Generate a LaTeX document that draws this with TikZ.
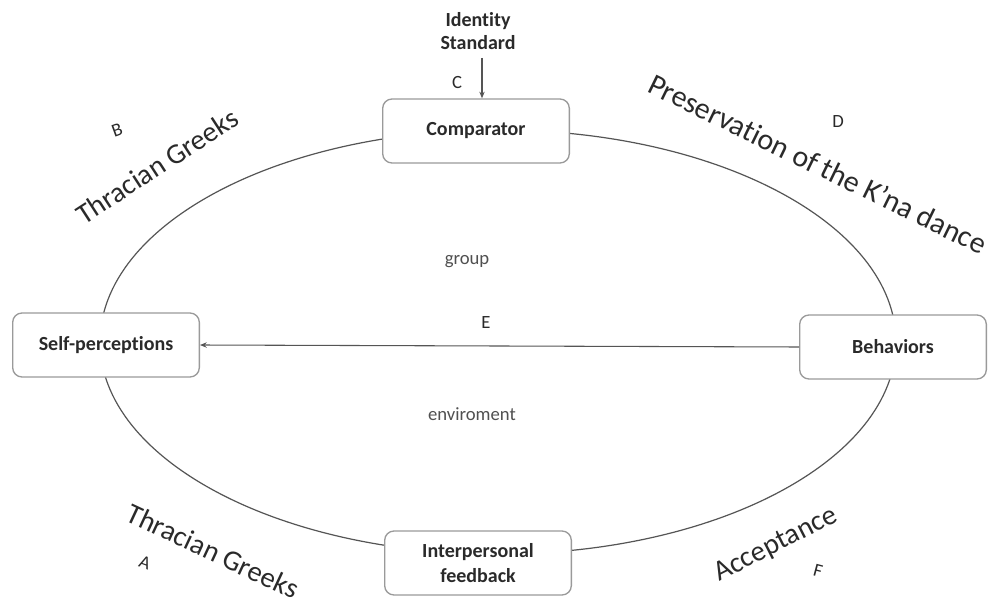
\documentclass[tikz,border=0pt]{standalone}
\usepackage{fontspec}
\setmainfont{Carlito}[Ligatures=NoCommon]
\usetikzlibrary{arrows.meta}
\definecolor{txt}{HTML}{2A2A2A}
\definecolor{soft}{HTML}{505050}
\definecolor{boxline}{HTML}{9A9A9A}
\definecolor{ringline}{HTML}{555555}
\tikzset{
  box/.style={draw=boxline, line width=1pt, rounded corners=7pt, fill=white,
    minimum width=140pt, minimum height=48pt, align=center, text=txt,
    font=\fontsize{15}{17}\selectfont\bfseries, inner sep=2pt},
  big/.style={text=txt, font=\fontsize{21.5}{24}\selectfont, inner sep=0pt},
  small/.style={text=txt, font=\fontsize{14}{16}\selectfont, inner sep=0pt},
  mid/.style={text=soft, font=\fontsize{14}{16}\selectfont, inner sep=0pt},
  conn/.style={draw=ringline, line width=0.8pt, -{Stealth[length=5pt,width=4pt]}}
}
\begin{document}
\begin{tikzpicture}[x=0.75pt,y=-0.75pt]
\useasboundingbox[fill=white] (0,0) rectangle (997,606);
% ring
\coordinate (ringc) at (498,342);
\draw[ringline, line width=0.9pt] (ringc) ellipse [x radius=298.5pt, y radius=159pt];
% boxes
\node[box] (comp) at (476,131) {Comparator};
\node[box] (self) at (106,345) {Self-perceptions};
\node[box] (beh) at (893,347) {Behaviors};
\node[box, font=\fontsize{15}{19}\selectfont\bfseries] (inter) at (478,563) {Interpersonal\\feedback};
% identity standard
\node[small, font=\fontsize{15}{17}\selectfont\bfseries, align=center] (ids) at (478,31) {Identity\\Standard};
\coordinate (idsend) at (482,58);
\draw[conn] (idsend) -- (comp.north -| idsend);
\node[small] (lc) at (457,83) {C};
% main arrow
\draw[conn] (beh.west) -- (self.east);
% labels
\node[mid] (grp) at (467,262) {group};
\node[small] (le) at (486,323) {E};
\node[mid] (env) at (472,414) {enviroment};
\node[small, rotate=20] (lb) at (117,130) {B};
\node[big, rotate=33] (tg1) at (157,166) {Thracian Greeks};
\node[small] (ld) at (838,122) {D};
\node[big, font=\fontsize{22.5}{25}\selectfont, rotate=-26] (pres) at (818,164) {Preservation of the K’na dance};
\node[big, rotate=-25] (tg2) at (213,551) {Thracian Greeks};
\node[small, rotate=-20] (la) at (145,563) {A};
\node[big, rotate=27] (acc) at (776,545) {Acceptance};
\node[small, rotate=-15] (lf) at (818,571) {F};
\end{tikzpicture}
\end{document}
